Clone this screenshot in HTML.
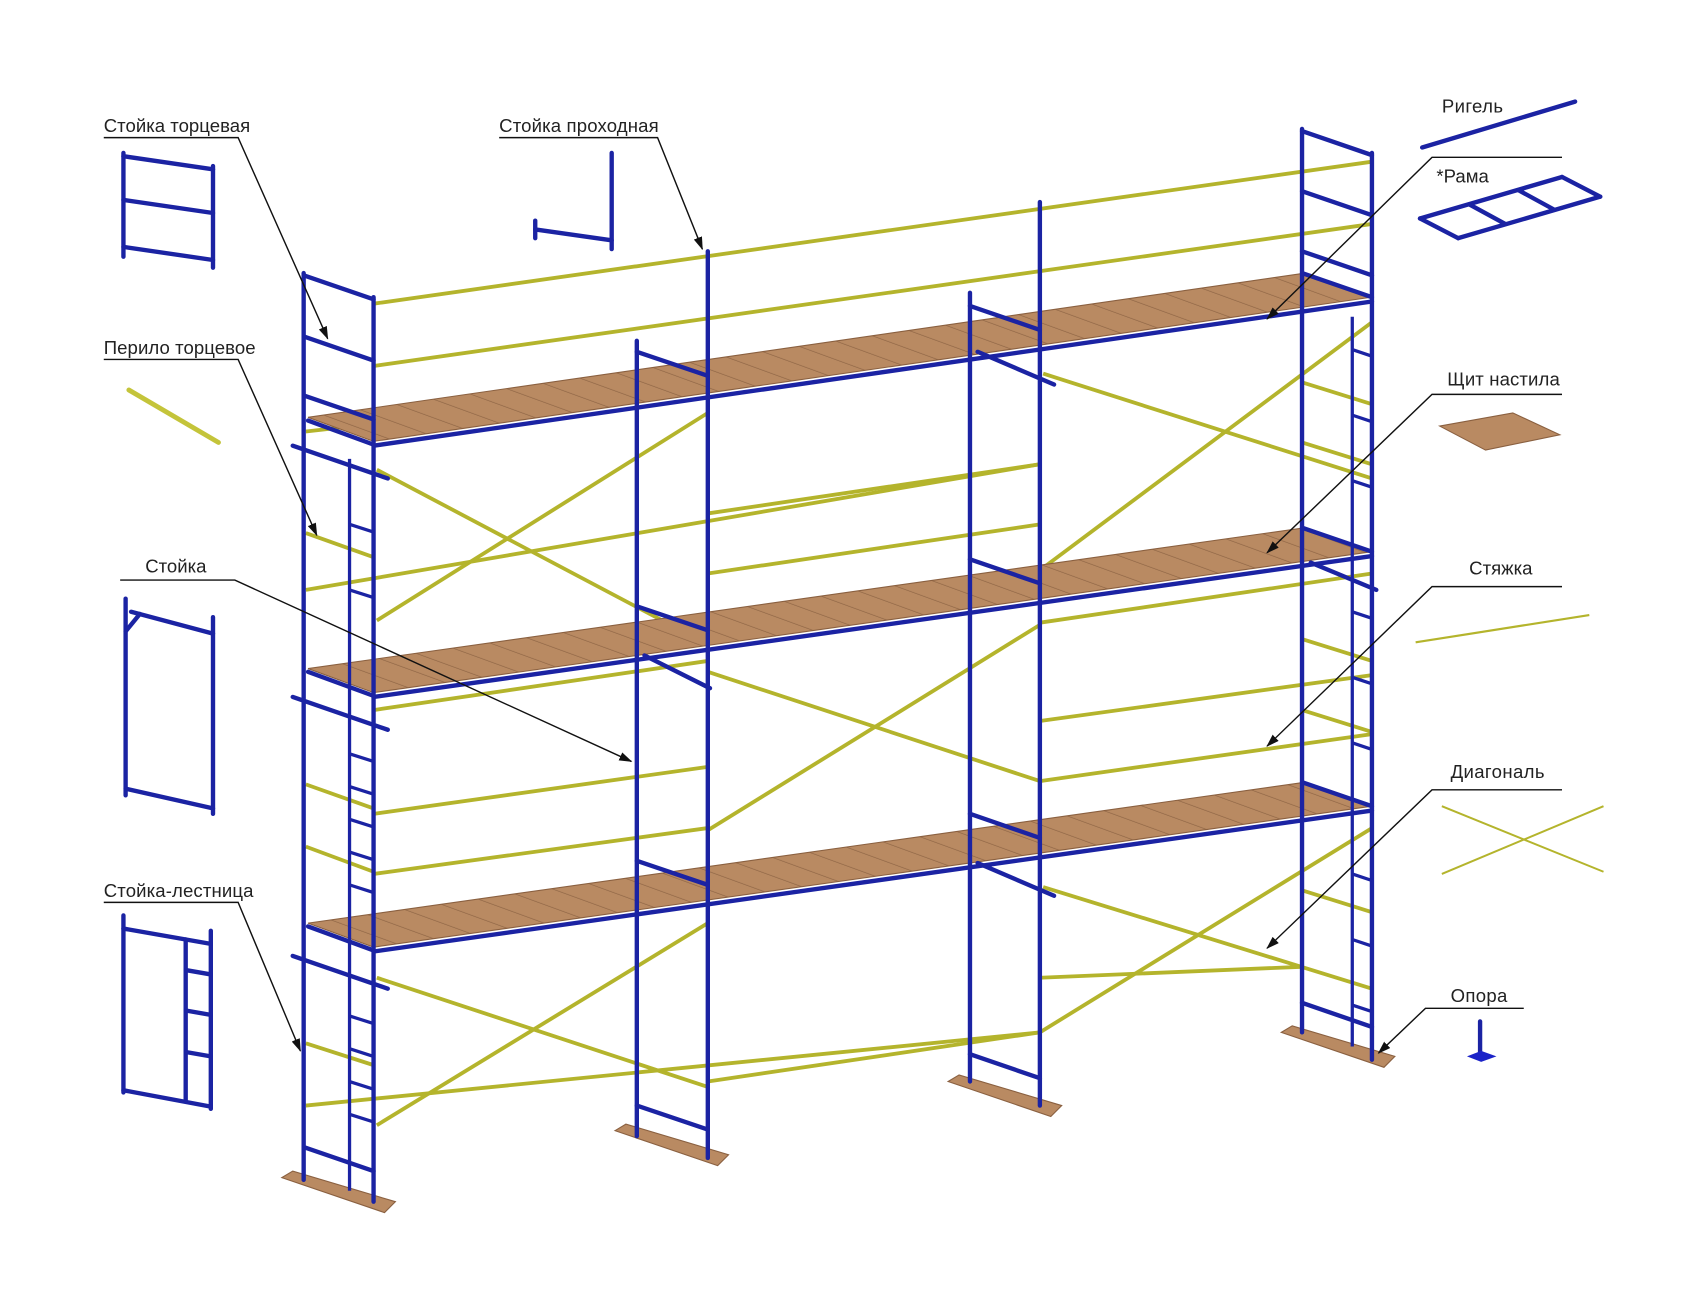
<!DOCTYPE html>
<html><head><meta charset="utf-8"><style>
html,body{margin:0;padding:0;background:#fff;}
svg{display:block}
text{font-family:"Liberation Sans","DejaVu Sans",sans-serif;font-size:17px;fill:#222}
.b{stroke:#1b23a3;stroke-width:4;fill:none;stroke-linecap:round}
.bt{stroke:#1b23a3;stroke-width:3;fill:none}
.y{stroke:#b4b42c;stroke-width:3.5;fill:none}
.l{stroke:#111;stroke-width:1.3;fill:none}
.w{fill:#b98a62;stroke:#8a6040;stroke-width:1}
</style></head><body>
<svg width="1704" height="1300" viewBox="0 0 1560 1190" preserveAspectRatio="none" xmlns="http://www.w3.org/2000/svg">
<defs>
<marker id="ar" markerWidth="12" markerHeight="8" refX="11" refY="4" orient="auto" markerUnits="userSpaceOnUse"><path d="M0,0 L12,4 L0,8 Z" fill="#111"/></marker>
<pattern id="pl" patternUnits="userSpaceOnUse" width="16" height="40" patternTransform="rotate(-70)"><rect width="16" height="40" fill="#b98a62"/><line x1="0" y1="0" x2="0" y2="40" stroke="#8d6444" stroke-width="1.2"/></pattern>
</defs>
<rect width="1560" height="1190" fill="#fff"/>

<!-- base plates -->
<polygon class="w" points="258,1078 268,1072 362,1100 352,1110"/>
<polygon class="w" points="563,1035 573,1029 667,1057 657,1067"/>
<polygon class="w" points="868,990 878,984 972,1012 962,1022"/>
<polygon class="w" points="1173,945 1183,939 1277,967 1267,977"/>

<!-- yellow rails and diagonals -->
<g class="y">
<line x1="342" y1="278" x2="1256" y2="148"/>
<line x1="342" y1="335" x2="1256" y2="205"/>
<line x1="345" y1="430" x2="648" y2="590"/>
<line x1="345" y1="568" x2="648" y2="378"/>
<line x1="280" y1="540" x2="952" y2="425"/>
<line x1="280" y1="395" x2="342" y2="388"/>
<line x1="648" y1="470" x2="952" y2="425"/>
<line x1="648" y1="525" x2="952" y2="480"/>
<line x1="955" y1="342" x2="1256" y2="438"/>
<line x1="952" y1="522" x2="1256" y2="295"/>
<line x1="1192" y1="350" x2="1256" y2="370"/>
<line x1="1192" y1="405" x2="1256" y2="425"/>
<line x1="280" y1="488" x2="342" y2="510"/>
<line x1="648" y1="615" x2="952" y2="715"/>
<line x1="648" y1="760" x2="952" y2="572"/>
<line x1="342" y1="650" x2="648" y2="605"/>
<line x1="342" y1="745" x2="648" y2="702"/>
<line x1="342" y1="800" x2="648" y2="758"/>
<line x1="280" y1="718" x2="342" y2="740"/>
<line x1="280" y1="775" x2="342" y2="798"/>
<line x1="952" y1="660" x2="1256" y2="618"/>
<line x1="952" y1="715" x2="1256" y2="672"/>
<line x1="952" y1="570" x2="1256" y2="525"/>
<line x1="1192" y1="585" x2="1256" y2="605"/>
<line x1="1192" y1="650" x2="1256" y2="670"/>
<line x1="345" y1="895" x2="648" y2="995"/>
<line x1="345" y1="1030" x2="648" y2="845"/>
<line x1="280" y1="1012" x2="952" y2="945"/>
<line x1="648" y1="990" x2="952" y2="945"/>
<line x1="955" y1="812" x2="1256" y2="905"/>
<line x1="952" y1="945" x2="1256" y2="758"/>
<line x1="952" y1="895" x2="1192" y2="885"/>
<line x1="1192" y1="815" x2="1256" y2="835"/>
<line x1="280" y1="955" x2="342" y2="975"/>
</g>

<!-- decks -->
<polygon points="282,382 342,404 1256,272 1195,250" fill="url(#pl)" stroke="#8a6040"/>
<polygon points="282,612 342,634 1256,505 1195,483" fill="url(#pl)" stroke="#8a6040"/>
<polygon points="282,845 342,867 1256,738 1195,716" fill="url(#pl)" stroke="#8a6040"/>
<g class="b" stroke-width="6">
<line x1="342" y1="408" x2="1256" y2="276"/>
<line x1="342" y1="638" x2="1256" y2="509"/>
<line x1="342" y1="871" x2="1256" y2="742"/>
</g>
<g class="b">
<line x1="282" y1="385" x2="342" y2="407"/>
<line x1="282" y1="615" x2="342" y2="637"/>
<line x1="282" y1="848" x2="342" y2="870"/>
<line x1="268" y1="408" x2="355" y2="438"/>
<line x1="268" y1="638" x2="355" y2="668"/>
<line x1="268" y1="875" x2="355" y2="905"/>
<line x1="583" y1="322" x2="648" y2="344"/>
<line x1="583" y1="555" x2="648" y2="577"/>
<line x1="583" y1="788" x2="648" y2="810"/>
<line x1="590" y1="600" x2="650" y2="630"/>
<line x1="888" y1="280" x2="952" y2="302"/>
<line x1="888" y1="512" x2="952" y2="534"/>
<line x1="888" y1="745" x2="952" y2="767"/>
<line x1="895" y1="322" x2="965" y2="352"/>
<line x1="895" y1="790" x2="965" y2="820"/>
<line x1="1192" y1="250" x2="1256" y2="272"/>
<line x1="1192" y1="483" x2="1256" y2="505"/>
<line x1="1192" y1="716" x2="1256" y2="738"/>
<line x1="1200" y1="515" x2="1260" y2="540"/>
</g>

<!-- frames -->
<g class="b">
<line x1="278" y1="250" x2="278" y2="1080"/>
<line x1="342" y1="272" x2="342" y2="1100"/>
<line x1="278" y1="252" x2="342" y2="274"/>
<line x1="278" y1="308" x2="342" y2="330"/>
<line x1="278" y1="362" x2="342" y2="384"/>
<line x1="278" y1="1050" x2="342" y2="1072"/>
<line x1="583" y1="312" x2="583" y2="1040"/>
<line x1="648" y1="230" x2="648" y2="1060"/>
<line x1="583" y1="1012" x2="648" y2="1034"/>
<line x1="888" y1="268" x2="888" y2="990"/>
<line x1="952" y1="185" x2="952" y2="1012"/>
<line x1="888" y1="965" x2="952" y2="987"/>
<line x1="1192" y1="118" x2="1192" y2="945"/>
<line x1="1256" y1="140" x2="1256" y2="970"/>
<line x1="1192" y1="120" x2="1256" y2="142"/>
<line x1="1192" y1="175" x2="1256" y2="197"/>
<line x1="1192" y1="230" x2="1256" y2="252"/>
<line x1="1192" y1="918" x2="1256" y2="940"/>
</g>
<g class="bt" stroke-width="2.5">
<line x1="320" y1="420" x2="320" y2="1090"/>
<line x1="320" y1="480" x2="342" y2="487"/><line x1="320" y1="540" x2="342" y2="547"/>
<line x1="320" y1="690" x2="342" y2="697"/><line x1="320" y1="720" x2="342" y2="727"/>
<line x1="320" y1="750" x2="342" y2="757"/><line x1="320" y1="780" x2="342" y2="787"/>
<line x1="320" y1="810" x2="342" y2="817"/><line x1="320" y1="930" x2="342" y2="937"/>
<line x1="320" y1="960" x2="342" y2="967"/><line x1="320" y1="990" x2="342" y2="997"/>
<line x1="320" y1="1020" x2="342" y2="1027"/>
<line x1="1238" y1="290" x2="1238" y2="958"/>
<line x1="1238" y1="320" x2="1256" y2="326"/><line x1="1238" y1="380" x2="1256" y2="386"/>
<line x1="1238" y1="440" x2="1256" y2="446"/><line x1="1238" y1="560" x2="1256" y2="566"/>
<line x1="1238" y1="620" x2="1256" y2="626"/><line x1="1238" y1="680" x2="1256" y2="686"/>
<line x1="1238" y1="800" x2="1256" y2="806"/><line x1="1238" y1="860" x2="1256" y2="866"/>
<line x1="1238" y1="920" x2="1256" y2="926"/>
</g>

<!-- left icons -->
<g class="b" stroke-width="3.5">
<line x1="113" y1="140" x2="113" y2="235"/><line x1="195" y1="152" x2="195" y2="245"/>
<line x1="113" y1="143" x2="195" y2="155"/><line x1="113" y1="183" x2="195" y2="195"/><line x1="113" y1="226" x2="195" y2="238"/>
<line x1="560" y1="140" x2="560" y2="228"/><line x1="490" y1="210" x2="560" y2="220"/><line x1="490" y1="202" x2="490" y2="218"/>
<line x1="115" y1="548" x2="115" y2="728"/><line x1="195" y1="565" x2="195" y2="745"/>
<line x1="115" y1="722" x2="195" y2="740"/><line x1="120" y1="560" x2="195" y2="580"/><line x1="115" y1="578" x2="128" y2="562"/>
<line x1="113" y1="838" x2="113" y2="1000"/><line x1="193" y1="852" x2="193" y2="1015"/>
<line x1="113" y1="998" x2="193" y2="1013"/><line x1="113" y1="850" x2="193" y2="864"/>
<line x1="170" y1="860" x2="170" y2="1008"/>
<line x1="170" y1="888" x2="193" y2="892"/><line x1="170" y1="925" x2="193" y2="929"/><line x1="170" y1="963" x2="193" y2="967"/>
</g>
<line x1="118" y1="357" x2="200" y2="405" stroke="#c4c43a" stroke-width="4.5" stroke-linecap="round"/>

<!-- right icons -->
<g class="b" stroke-width="3.5">
<line x1="1302" y1="135" x2="1442" y2="93"/>
<line x1="1300" y1="200" x2="1430" y2="162"/><line x1="1335" y1="218" x2="1465" y2="180"/>
<line x1="1300" y1="200" x2="1335" y2="218"/><line x1="1430" y1="162" x2="1465" y2="180"/>
<line x1="1345" y1="187" x2="1378" y2="205"/><line x1="1390" y1="174" x2="1423" y2="192"/>
<line x1="1355" y1="935" x2="1355" y2="965"/>
</g>
<polygon points="1343,967 1356,962 1370,967 1356,972" fill="#1b23c8"/>
<polygon class="w" points="1318,390 1385,378 1428,398 1360,412"/>
<line x1="1296" y1="588" x2="1455" y2="563" stroke="#b4b42c" stroke-width="2"/>
<line x1="1320" y1="738" x2="1468" y2="798" stroke="#b4b42c" stroke-width="1.8"/>
<line x1="1320" y1="800" x2="1468" y2="738" stroke="#b4b42c" stroke-width="1.8"/>

<!-- labels -->
<text x="95" y="121" textLength="134">Стойка торцевая</text>
<polyline class="l" points="95,126 218,126 300,310" marker-end="url(#ar)"/>
<text x="457" y="121" textLength="146">Стойка проходная</text>
<polyline class="l" points="457,126 602,126 643,228" marker-end="url(#ar)"/>
<text x="95" y="324" textLength="139">Перило торцевое</text>
<polyline class="l" points="95,329 218,329 290,490" marker-end="url(#ar)"/>
<text x="133" y="524" textLength="56">Стойка</text>
<polyline class="l" points="110,531 215,531 578,697" marker-end="url(#ar)"/>
<text x="95" y="821" textLength="137">Стойка-лестница</text>
<polyline class="l" points="95,826 218,826 275,962" marker-end="url(#ar)"/>
<text x="1320" y="103" textLength="56">Ригель</text>
<text x="1315" y="167" textLength="48">*Рама</text>
<polyline class="l" points="1430,144 1311,144 1160,292" marker-end="url(#ar)"/>
<text x="1325" y="353" textLength="103">Щит настила</text>
<polyline class="l" points="1430,361 1311,361 1160,506" marker-end="url(#ar)"/>
<text x="1345" y="526" textLength="58">Стяжка</text>
<polyline class="l" points="1430,537 1311,537 1160,683" marker-end="url(#ar)"/>
<text x="1328" y="712" textLength="86">Диагональ</text>
<polyline class="l" points="1430,723 1311,723 1160,868" marker-end="url(#ar)"/>
<text x="1328" y="917" textLength="52">Опора</text>
<polyline class="l" points="1395,923 1305,923 1262,964" marker-end="url(#ar)"/>
</svg>
</body></html>
